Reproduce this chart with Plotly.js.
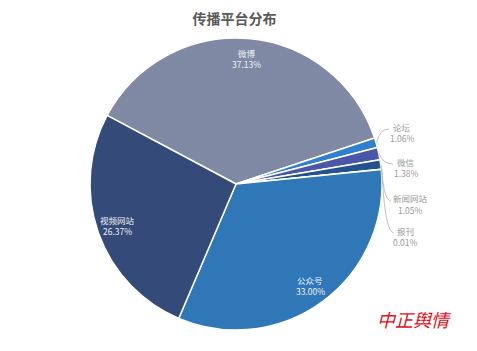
<!DOCTYPE html>
<html>
<head>
<meta charset="utf-8">
<script src="https://cdn.plot.ly/plotly-3.0.1.min.js"></script>
<style>html,body{margin:0;padding:0;background:#fff;}#chart{width:477px;height:351px;}</style>
</head>
<body>
<div id="chart"></div>
<script>
const categories = ['微博', '论坛', '微信', '新闻网站', '报刊', '公众号', '视频网站'];
const values = [37.13, 1.06, 1.38, 1.05, 0.01, 33.00, 26.37];
const colors = ['#7f89a4', '#2f80cf', '#4a57a8', '#24528c', '#2a5f9e', '#2f77b7', '#344a79'];
const insideLabels = ['微博', '公众号', '视频网站'];
const outsideLabelPos = {'论坛': [402, 132], '微信': [406, 167], '新闻网站': [410, 204], '报刊': [405, 236]};
const leaderEnds = {'论坛': [389, 129], '微信': [393, 164], '新闻网站': [391, 201], '报刊': [394, 233]};

const W = 477, H = 351;
const M = {l: 90, r: 95, t: 38, b: 21};
const cx = M.l + (W - M.l - M.r) / 2;
const cy = M.t + (H - M.t - M.b) / 2;
const R = (W - M.l - M.r) / 2;
const rotation = -62;
const toPx = (px) => (px - M.l) / (W - M.l - M.r);
const toPy = (py) => (H - M.b - py) / (H - M.t - M.b);

const total = values.reduce((a, b) => a + b, 0);
const annotations = [];
const shapes = [];
const fontFam = 'Noto Sans CJK SC, sans-serif';
const fs = 8.5, gap = 5.5;
function twoLine(px, py, name, pct, color) {
  annotations.push({xref: 'paper', yref: 'paper', x: toPx(px), y: toPy(py - gap),
    xanchor: 'center', yanchor: 'middle', text: name, showarrow: false,
    font: {family: fontFam, size: fs, color: color}});
  annotations.push({xref: 'paper', yref: 'paper', x: toPx(px), y: toPy(py + gap),
    xanchor: 'center', yanchor: 'middle', text: pct, showarrow: false,
    font: {family: fontFam, size: fs, color: color}});
}
let acc = 0;
categories.forEach((c, i) => {
  const mid = rotation + (acc + values[i] / 2) / total * 360;
  acc += values[i];
  const a = mid * Math.PI / 180;
  const dx = Math.sin(a), dy = -Math.cos(a);
  const pct = values[i].toFixed(2) + '%';
  if (insideLabels.includes(c)) {
    const rr = R * 0.86;
    twoLine(cx + dx * rr, cy + dy * rr, c, pct, '#eef1f6');
  } else {
    const tip = [cx + dx * (R + 0.5), cy + dy * (R + 0.5)];
    const lp = outsideLabelPos[c];
    twoLine(lp[0], lp[1], c, pct, '#9a9a9a');
    const end = leaderEnds[c];
    const ctrl = [tip[0] + (end[0] - tip[0]) * 0.25, end[1]];
    shapes.push({type: 'path', xref: 'paper', yref: 'paper',
      path: 'M ' + toPx(tip[0]) + ',' + toPy(tip[1]) + ' Q ' + toPx(ctrl[0]) + ',' + toPy(ctrl[1]) + ' ' + toPx(end[0]) + ',' + toPy(end[1]),
      line: {color: '#b4b4b4', width: 0.8}});
  }
});

annotations.push({
  xref: 'paper', yref: 'paper', x: toPx(415), y: toPy(318.5), xanchor: 'center', yanchor: 'middle',
  text: '<i>中正舆情</i>', showarrow: false,
  font: {family: fontFam, size: 18, color: '#e0101a'}
});

const trace = {
  type: 'pie',
  labels: categories,
  values: values,
  sort: false,
  direction: 'clockwise',
  rotation: rotation,
  marker: {colors: colors, line: {color: '#ffffff', width: 1.5}},
  textinfo: 'none',
  hoverinfo: 'label+percent',
  showlegend: false
};

const layout = {
  width: W, height: H,
  margin: M,
  paper_bgcolor: '#ffffff',
  title: {text: '传播平台分布', x: 234.5 / W, xanchor: 'center', y: 1 - 19.3 / H, yanchor: 'middle',
          font: {family: fontFam, size: 14, color: '#595959', weight: 'bold'}},
  annotations: annotations,
  shapes: shapes,
  showlegend: false
};

Plotly.newPlot('chart', [trace], layout, {displayModeBar: false, staticPlot: true});
</script>
</body>
</html>
